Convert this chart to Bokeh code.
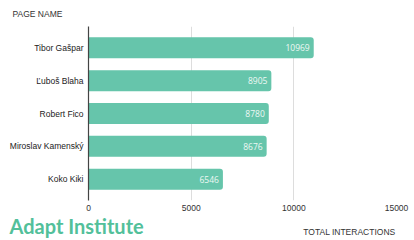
from bokeh.plotting import figure
from bokeh.models import Range1d, FixedTicker, Label, ColumnDataSource
from bokeh.core.properties import value
from bokeh.embed import file_html
from bokeh.resources import INLINE

names = ["Tibor Gašpar", "Ľuboš Blaha", "Robert Fico", "Miroslav Kamenský", "Koko Kiki"]
interactions = [10969, 8905, 8780, 8676, 6546]
x_ticks = [0, 5000, 10000, 15000]

ypos = list(range(len(names)))
src = ColumnDataSource(dict(y=ypos, v=interactions, lab=[str(v) for v in interactions]))

p = figure(width=414, height=240, output_backend="svg", toolbar_location=None,
           x_range=Range1d(0, 15000), y_range=Range1d(len(names) - 0.35, -0.65),
           min_border_left=88, min_border_right=18, min_border_top=26, min_border_bottom=40)
p.outline_line_color = None
p.background_fill_color = "white"
p.border_fill_color = "white"

p.hbar(y="y", right="v", left=0, height=0.64, source=src, fill_color="#66c5ab",
       line_color=None, border_radius=(0, 3, 3, 0))
p.text(x="v", y="y", text="lab", source=src, x_offset=-4, text_align="right",
       text_baseline="middle", text_color="#eef8f4", text_font_size="8.5px",
       text_font=value("Open Sans"))

p.xaxis.ticker = FixedTicker(ticks=x_ticks)
p.xaxis.axis_line_color = None
p.xaxis.major_tick_line_color = None
p.xaxis.minor_tick_line_color = None
p.xaxis.major_tick_out = 0
p.xaxis.minor_tick_out = 0
p.xaxis.major_label_standoff = 4
p.xaxis.major_label_text_font = "Liberation Sans"
p.xaxis.major_label_text_font_size = "8.5px"
p.xaxis.major_label_text_color = "#333333"

p.yaxis.ticker = FixedTicker(ticks=ypos)
p.yaxis.major_label_overrides = {i: n for i, n in enumerate(names)}
p.yaxis.axis_line_color = "#444444"
p.yaxis.axis_line_width = 1.2
p.yaxis.major_tick_line_color = None
p.yaxis.minor_tick_line_color = None
p.yaxis.major_tick_out = 0
p.yaxis.minor_tick_out = 0
p.yaxis.major_label_standoff = 5
p.yaxis.major_label_text_font = "Liberation Sans"
p.yaxis.major_label_text_font_size = "8.5px"
p.yaxis.major_label_text_color = "#222222"

p.xgrid.ticker = FixedTicker(ticks=x_ticks[1:])
p.xgrid.grid_line_color = "#dddddd"
p.ygrid.grid_line_color = None

# texts outside the frame live in side panels, positioned in canvas pixels
p.add_layout(Label(x=12, y=13, x_units="canvas", y_units="canvas", text="PAGE NAME",
                   text_font="Liberation Sans", text_font_size="8.5px", text_color="#333333",
                   text_baseline="middle"), "above")
p.add_layout(Label(x=395, y=231, x_units="canvas", y_units="canvas",
                   text="TOTAL INTERACTIONS", text_align="right",
                   text_font="Liberation Sans", text_font_size="8.5px", text_color="#333333",
                   text_baseline="middle"), "above")
p.add_layout(Label(x=9, y=225, x_units="canvas", y_units="canvas",
                   text="Adapt Institute", text_font="Lato", text_font_size="20px",
                   text_font_style="bold", text_color="#52c09a", text_baseline="middle"), "below")

open("out.html", "w").write(file_html(p, INLINE))
